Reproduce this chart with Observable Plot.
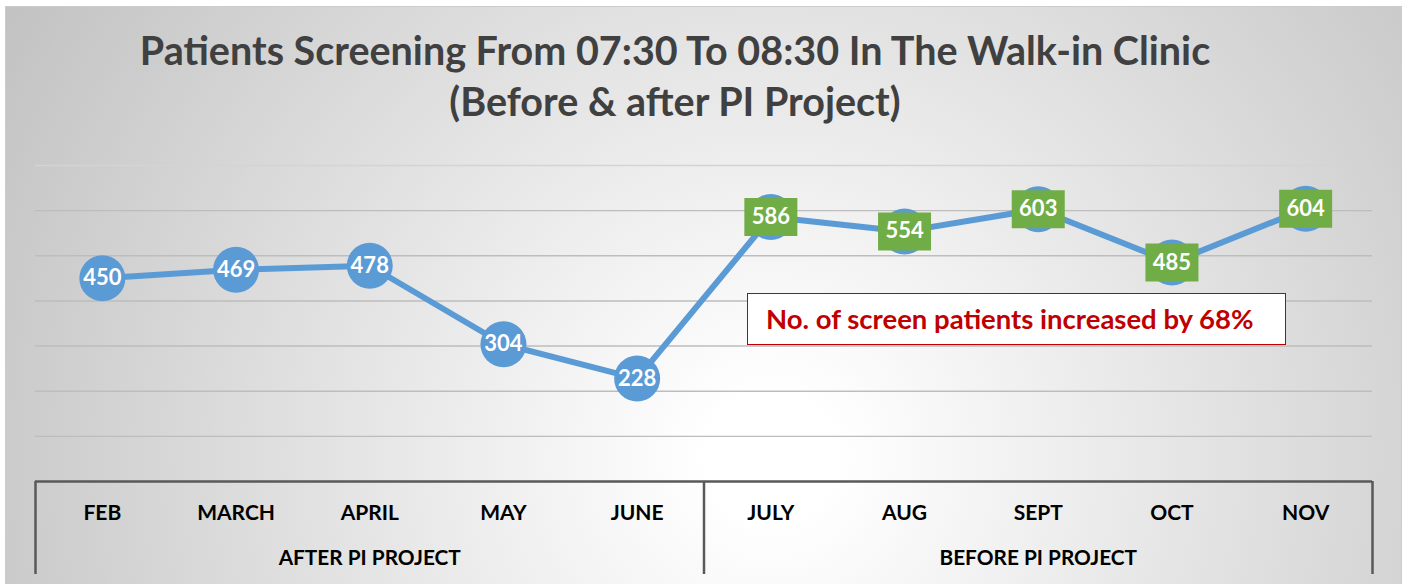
<!DOCTYPE html>
<html><head><meta charset="utf-8">
<script src="https://cdn.jsdelivr.net/npm/d3@7"></script>
<script src="https://cdn.jsdelivr.net/npm/@observablehq/plot@0.6"></script>
<style>
body{margin:0;background:#fff;}
#wrap{position:relative;width:1407px;height:584px;overflow:hidden;font-family:Lato,sans-serif;}
#bg{position:absolute;left:5px;top:6px;width:1395px;height:640px;border:1px solid #cccccc;
  background:radial-gradient(circle farthest-corner at 765px 450px,#ffffff 0%,#ffffff 7%,#c2c2c2 100%);}
#title{position:absolute;left:0;width:1350px;top:24px;text-align:center;font-weight:700;color:#404040;font-size:39.5px;line-height:51px;}
#chart{position:absolute;left:0;top:0;}
#chart svg{background:transparent !important;}
#note{position:absolute;left:747px;top:293px;width:539px;height:52px;box-sizing:border-box;border:1.5px solid #c00000;background:#fff;color:#c00000;font-weight:700;font-size:27.5px;padding-left:18px;line-height:49px;white-space:nowrap;}
</style></head>
<body>
<div id="wrap">
  <div id="bg"></div>
  <div id="chart"></div>
  <div id="title">Patients Screening From 07:30 To 08:30 In The Walk-in Clinic<br>(Before &amp; after PI Project)</div>
  <div id="note">No. of screen patients increased by 68%</div>
</div>
<script>
const months = ["FEB","MARCH","APRIL","MAY","JUNE","JULY","AUG","SEPT","OCT","NOV"];
const patients = [450,469,478,304,228,586,554,603,485,604];
const groups = ["AFTER PI PROJECT","BEFORE PI PROJECT"];
const groupSizes = [5,5];
const yTicks = [100,200,300,400,500,600,700];
const yMax = 700;

// derived tables
let start = 0;
const groupInfo = groups.map((g, k) => {
  const s = start; start += groupSizes[k];
  return {name: g, first: s, last: start - 1};
});
const data = months.map((m, i) => ({
  i, month: m, value: patients[i],
  group: groupInfo.findIndex(g => i >= g.first && i <= g.last)
}));
const boundaries = [groupInfo[0].first - 0.5, ...groupInfo.map(g => g.last + 0.5)];
const groupCenters = groupInfo.map(g => (g.first + g.last) / 2);

const boxSymbol = {draw(ctx) { ctx.rect(-26.5, -19, 53, 38); }};

const chart = Plot.plot({
  width: 1407, height: 584,
  marginTop: 165, marginBottom: 103, marginLeft: 35, marginRight: 35,
  x: {domain: [-0.5, months.length - 0.5], label: null},
  y: {domain: [0, yMax], axis: null, label: null},
  style: {background: "transparent", fontFamily: "Lato, sans-serif", overflow: "visible"},
  marks: [
    Plot.ruleY(yTicks, {stroke: d => d === yMax ? "#d4d4d4" : "#bdbdbd", strokeWidth: 1.4}),
    Plot.ruleY([0], {stroke: "#595959", strokeWidth: 2.5}),
    Plot.axisX({ticks: boundaries, tickSize: 93, tickFormat: () => "", label: null, color: "#595959", strokeWidth: 2.5}),
    Plot.axisX({ticks: months.map((_, i) => i), tickSize: 0, tickPadding: 24, tickFormat: i => months[i], label: null,
      fontSize: 21, fontWeight: "bold", color: "#000"}),
    Plot.axisX({ticks: groupCenters, tickSize: 0, tickPadding: 69, tickFormat: d => groups[groupCenters.indexOf(d)], label: null,
      fontSize: 20.8, fontWeight: "bold", color: "#000"}),
    Plot.line(data, {x: "i", y: "value", stroke: "#5b9bd5", strokeWidth: 6}),
    Plot.dot(data, {x: "i", y: "value", r: 23, fill: "#5b9bd5"}),
    Plot.dot(data.filter(d => d.group === 1), {x: "i", y: "value", r: 23, symbol: boxSymbol, fill: "#70ad47"}),
    Plot.text(data, {x: "i", y: "value", text: d => String(d.value), fill: "#ffffff", fontSize: 22, fontWeight: "bold"})
  ]
});
document.getElementById("chart").appendChild(chart);
</script>
</body></html>
